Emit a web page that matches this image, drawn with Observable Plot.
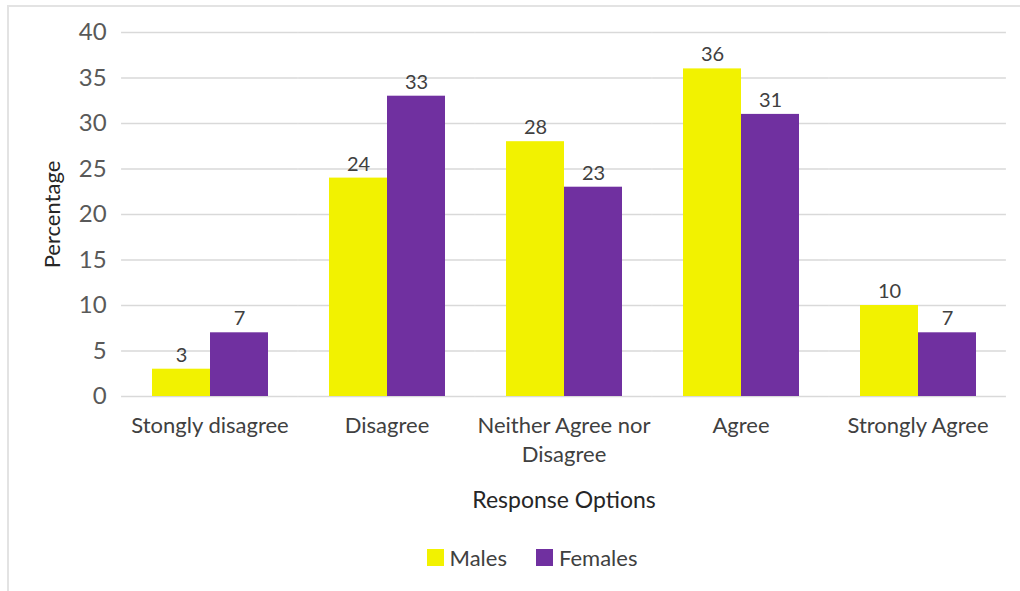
<!DOCTYPE html>
<html>
<head>
<meta charset="utf-8">
<script src="https://cdn.jsdelivr.net/npm/d3@7"></script>
<script src="https://cdn.jsdelivr.net/npm/@observablehq/plot@0.6"></script>
<style>
  html, body { margin: 0; padding: 0; background: #fff; }
  body { width: 1020px; height: 591px; position: relative; overflow: hidden; font-family: Lato, "Open Sans", sans-serif; }
  #frame { position: absolute; left: 7px; top: 5px; width: 1100px; height: 700px; border-left: 2px solid #e3e3e3; border-top: 2px solid #e3e3e3; z-index: 0; }
  #chart { position: relative; z-index: 1; }
  #legend { position: relative; z-index: 1; display: flex; justify-content: center; gap: 29px; padding-top: 14px; padding-left: 44px; font-size: 22px; color: #404040; }
  .item { display: flex; align-items: center; gap: 6px; }
  .sw { width: 17px; height: 17px; display: inline-block; }
</style>
</head>
<body>
<div id="frame"></div>
<div id="chart"></div>
<div id="legend"></div>
<script>
const categories = ["Stongly disagree", "Disagree", "Neither Agree nor\nDisagree", "Agree", "Strongly Agree"];
const genders = ["Males", "Females"];
const males = [3, 24, 28, 36, 10];
const females = [7, 33, 23, 31, 7];
const yTicks = [0, 5, 10, 15, 20, 25, 30, 35, 40];
const colors = ["#f2f200", "#7030a0"];

const rows = [];
categories.forEach((c, i) => {
  rows.push({category: c, gender: "Males", value: males[i]});
  rows.push({category: c, gender: "Females", value: females[i]});
});

const W = 1020, ML = 120, MR = 12;
const padIn = 0.337, padOut = padIn / 2;
const step = (W - ML - MR) / (categories.length - padIn + 2 * padOut);
const gap = step * padIn;
const gridExt = -gap / 2;

const chart = Plot.plot({
  width: W,
  height: 530,
  marginTop: 32,
  marginBottom: 134,
  marginLeft: ML,
  marginRight: MR,
  style: {fontFamily: "Lato, 'Open Sans', sans-serif", background: "transparent"},
  fx: {domain: categories, paddingInner: padIn, paddingOuter: padOut, label: null},
  x: {domain: genders, padding: 0, axis: null},
  y: {domain: [0, 40], label: null},
  color: {domain: genders, range: colors},
  marks: [
    Plot.ruleY(yTicks, {stroke: "#d9d9d9", strokeWidth: 1.5, insetLeft: gridExt, insetRight: gridExt}),
    Plot.barY(rows, {fx: "category", x: "gender", y: "value", fill: "gender"}),
    Plot.text(rows, {fx: "category", x: "gender", y: "value", text: d => String(d.value), dy: -14, fill: "#404040", fontSize: 20}),
    Plot.axisY({ticks: yTicks, tickSize: 0, tickPadding: 15 + gap / 2, fontSize: 24, color: "#595959", label: null}),
    Plot.axisY({ticks: [], tickSize: 0, fontSize: 22, color: "#262626", label: "Percentage", labelAnchor: "center", labelArrow: "none", labelOffset: 107}),
    Plot.axisFx({anchor: "bottom", tickSize: 0, tickPadding: 16, fontSize: 22, color: "#404040", lineHeight: 1.32, label: null}),
    Plot.axisFx({anchor: "bottom", ticks: [], tickSize: 0, fontSize: 23, color: "#262626", label: "Response Options", labelAnchor: "center", labelArrow: "none", labelOffset: 111})
  ]
});
document.getElementById("chart").appendChild(chart);

const legend = document.getElementById("legend");
genders.forEach((g, i) => {
  const item = document.createElement("div");
  item.className = "item";
  const sw = document.createElement("span");
  sw.className = "sw";
  sw.style.background = colors[i];
  const t = document.createElement("span");
  t.textContent = g;
  item.appendChild(sw);
  item.appendChild(t);
  legend.appendChild(item);
});
</script>
</body>
</html>
